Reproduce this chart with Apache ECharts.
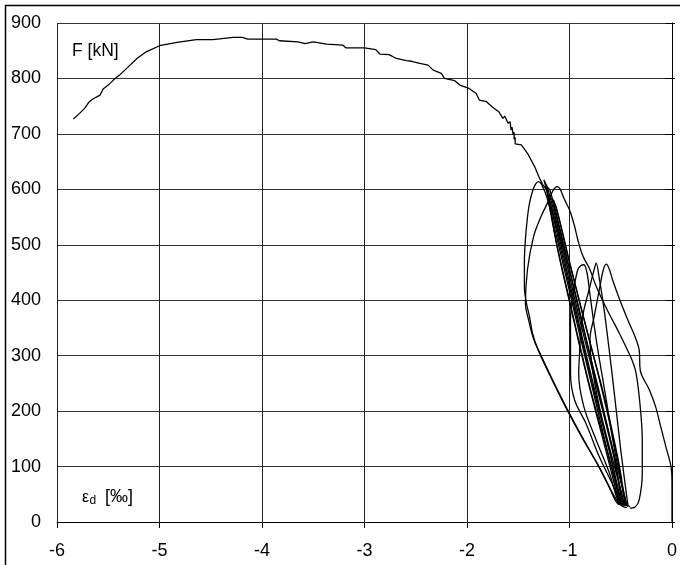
<!DOCTYPE html>
<html>
<head>
<meta charset="utf-8">
<script src="https://cdn.jsdelivr.net/npm/echarts@6/dist/echarts.min.js"></script>
<style>html,body{margin:0;padding:0;background:#fff}#c{width:680px;height:565px}</style>
</head>
<body>
<div id="c"></div>
<script>
// Axis ticks
const xTicks = [-6, -5, -4, -3, -2, -1, 0];
const yTicks = [0, 100, 200, 300, 400, 500, 600, 700, 800, 900];

// Monotonic envelope (strain ‰, force kN)
const envelope = [
  [-5.84,727],[-5.78,737],[-5.73,746],[-5.69,757],[-5.65,763],[-5.58,770],[-5.55,781],[-5.50,788],
  [-5.45,797],[-5.39,806],[-5.31,820],[-5.22,836],[-5.13,848],[-5.00,859],[-4.83,865],[-4.64,870],
  [-4.48,870],[-4.28,874],[-4.19,874],[-4.14,871],[-3.86,871],[-3.83,868],[-3.65,866],[-3.58,863],
  [-3.50,866],[-3.37,862],[-3.21,860],[-3.18,855],[-3.00,855],[-2.89,852],[-2.85,844],[-2.76,843],
  [-2.69,836],[-2.59,832],[-2.54,831],[-2.46,827],[-2.38,824],[-2.33,815],[-2.25,809],[-2.22,800],
  [-2.12,796],[-2.07,788],[-1.98,782],[-1.91,773],[-1.88,761],[-1.81,758],[-1.75,748],[-1.69,740],
  [-1.65,728],[-1.63,732],[-1.60,719],[-1.58,722],[-1.57,707],[-1.56,712],[-1.55,698],[-1.54,703],
  [-1.54,690],[-1.53,694],[-1.53,682],[-1.52,680],[-1.47,680],[-1.41,665],[-1.34,641],[-1.30,623],
  [-1.26,608],[-1.22,599],[-1.12,520],[-0.97,400],[-0.78,250],[-0.60,120],[-0.50,40],[-0.47,30]
];

// Large cycle with wide left bulge
const cycle1 = [
  [-0.50,32],[-0.62,120],[-0.80,260],[-0.98,400],[-1.12,510],[-1.22,585],[-1.27,608],[-1.30,614],
  [-1.33,610],[-1.36,597],[-1.39,575],[-1.41,550],[-1.43,510],[-1.44,470],[-1.44,424],[-1.42,395],
  [-1.39,370],[-1.36,340],[-1.31,312],[-1.20,268],[-1.04,208],[-0.88,153],[-0.71,99],[-0.60,58],
  [-0.55,38],[-0.52,31]
];

// Cycle with peak 605 and inner left bulge
const cycle2 = [
  [-0.41,25],[-0.36,27],[-0.32,40],[-0.29,88],[-0.29,148],[-0.31,208],[-0.35,268],[-0.39,292],
  [-0.45,316],[-0.51,339],[-0.58,364],[-0.65,389],[-0.74,425],[-0.80,455],[-0.87,480],[-0.92,510],
  [-0.95,533],[-1.00,563],[-1.05,582],[-1.09,600],[-1.12,605],[-1.16,598],[-1.20,581],[-1.28,550],
  [-1.35,515],[-1.41,455],[-1.43,394],[-1.40,365],[-1.35,330],[-1.29,305],[-1.18,262],[-1.02,203],
  [-0.86,148],[-0.70,95],[-0.58,52],[-0.52,34],[-0.48,28],[-0.44,26]
];

// Steep bundle cycles
const bundle1 = [
  [-0.46,30],[-0.59,120],[-0.77,250],[-0.96,400],[-1.11,520],[-1.25,617],
  [-1.21,600],[-1.07,500],[-0.92,380],[-0.73,240],[-0.57,120],[-0.49,40],[-0.46,30]
];
const bundle2 = [
  [-0.49,30],[-0.62,120],[-0.81,250],[-1.00,400],[-1.14,515],[-1.23,606],
  [-1.19,598],[-1.05,495],[-0.90,375],[-0.71,235],[-0.56,115],[-0.48,38],[-0.45,29]
];
const bundle3 = [
  [-0.51,31],[-0.64,125],[-0.83,262],[-1.01,405],[-1.13,505],[-1.20,585],
  [-1.15,578],[-1.01,475],[-0.85,360],[-0.67,228],[-0.53,112],[-0.46,36],[-0.43,28]
];
const bundle4 = [
  [-0.44,29],[-0.56,118],[-0.73,245],[-0.91,388],[-1.06,500],[-1.17,582],
  [-1.13,568],[-0.99,462],[-0.83,345],[-0.65,218],[-0.52,108],[-0.45,35],[-0.41,27]
];

// Smaller cycles, peaks about 465 kN
const cycleA = [
  [-0.44,30],[-0.55,120],[-0.65,230],[-0.74,330],[-0.80,410],[-0.83,450],[-0.86,464],[-0.89,462],
  [-0.92,455],[-0.97,406],[-0.99,364],[-0.99,310],[-0.99,268],[-0.95,220],[-0.84,178],[-0.71,118],
  [-0.57,64],[-0.50,34],[-0.46,30]
];
const cycleB = [
  [-0.43,30],[-0.50,130],[-0.58,260],[-0.66,380],[-0.71,440],[-0.74,467],[-0.76,455],[-0.81,418],
  [-0.86,382],[-0.89,346],[-0.90,310],[-0.91,268],[-0.86,208],[-0.74,148],[-0.61,88],[-0.53,40],
  [-0.48,30]
];
const cycleC = [
  [-0.47,32],[-0.52,50],[-0.60,120],[-0.70,200],[-0.78,280],[-0.80,330],[-0.76,370],[-0.71,418],
  [-0.67,455],[-0.64,465],[-0.61,455],[-0.58,437],[-0.52,406],[-0.43,364],[-0.36,334],[-0.32,310],
  [-0.31,274],[-0.22,238],[-0.16,208],[-0.11,172],[-0.06,136],[-0.01,100],[0,70],[0,46],[0,0]
];

const loops = [cycle1, cycle2, bundle1, bundle2, bundle3, bundle4, cycleA, cycleB, cycleC];

const chart = echarts.init(document.getElementById('c'), null, {renderer: 'canvas'});
const lineStyle = {color: '#000', width: 1.3};
const series = [{
  type: 'line', data: envelope, showSymbol: false, symbol: 'none', lineStyle: lineStyle,
  smooth: false, animation: false, z: 5
}].concat(loops.map(d => ({
  type: 'line', data: d, showSymbol: false, symbol: 'none', lineStyle: lineStyle,
  smooth: 0.35, animation: false, z: 5
})));

const font = 'Liberation Sans, Arial, sans-serif';

chart.setOption({
  animation: false,
  backgroundColor: '#fff',
  grid: {left: 57, right: 7, top: 23, bottom: 43, containLabel: false},
  xAxis: {
    type: 'value', min: xTicks[0], max: xTicks[xTicks.length - 1], interval: 1,
    axisLine: {show: true, onZero: false, lineStyle: {color: '#000', width: 1}},
    axisTick: {show: true, inside: false, length: 6, lineStyle: {color: '#000'}},
    splitLine: {show: true, lineStyle: {color: '#222', width: 1}},
    axisLabel: {color: '#000', fontSize: 18, fontFamily: font, margin: 20}
  },
  yAxis: [{
    type: 'value', min: yTicks[0], max: yTicks[yTicks.length - 1], interval: 100,
    axisLine: {show: true, lineStyle: {color: '#777', width: 1}},
    axisTick: {show: true, inside: true, length: 3, lineStyle: {color: '#000'}},
    splitLine: {show: true, lineStyle: {color: '#333', width: 1}},
    axisLabel: {color: '#000', fontSize: 18, fontFamily: font, margin: 16}
  }, {
    type: 'value', position: 'right', min: yTicks[0], max: yTicks[yTicks.length - 1], interval: 100,
    axisLine: {show: true, lineStyle: {color: '#000', width: 1}},
    axisTick: {show: true, inside: true, length: 6, lineStyle: {color: '#000'}},
    splitLine: {show: false},
    axisLabel: {show: false}
  }],
  graphic: [
    {type: 'rect', shape: {x: 5.5, y: 5.5, width: 720, height: 620}, style: {fill: 'none', stroke: '#000', lineWidth: 1.5}, z: 100, silent: true},
    {type: 'text', x: 72, y: 51, style: {text: 'F [kN]', fontSize: 17.5, fontFamily: font, fill: '#000', verticalAlign: 'middle'}, z: 100},
    {type: 'text', x: 82, y: 497.5, style: {text: 'ε', fontSize: 16, fontFamily: font, fill: '#000', verticalAlign: 'middle'}, z: 100},
    {type: 'text', x: 89.5, y: 501, style: {text: 'd', fontSize: 12, fontFamily: font, fill: '#000', verticalAlign: 'middle'}, z: 100},
    {type: 'text', x: 105, y: 497, style: {text: '[‰]', fontSize: 18, fontFamily: font, fill: '#000', verticalAlign: 'middle'}, z: 100}
  ],
  series: series
});
</script>
</body>
</html>
